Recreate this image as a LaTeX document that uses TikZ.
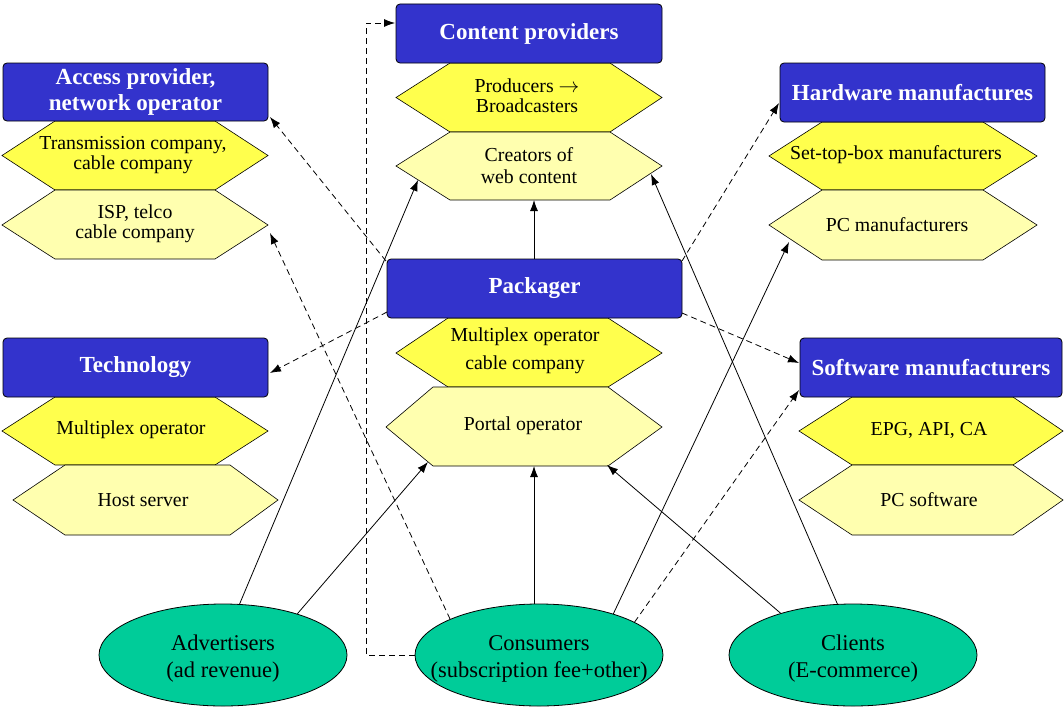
\documentclass[tikz,border=0pt]{standalone}
\usepackage{fontspec}
\setmainfont{Liberation Serif}
\usetikzlibrary{shapes.geometric,arrows.meta}
\definecolor{hdrblue}{RGB}{51,51,204}
\definecolor{hexyellow}{RGB}{255,255,77}
\definecolor{hexpale}{RGB}{255,255,175}
\definecolor{actorteal}{RGB}{0,204,153}
\tikzset{
  hdr/.style={draw=black, line width=0.8pt, fill=hdrblue, rounded corners=4pt,
    text=white, font=\bfseries\fontsize{23}{26}\selectfont, align=center, inner sep=0pt},
  hexA/.style={draw=black, line width=0.6pt, fill=hexyellow},
  hexB/.style={draw=black, line width=0.6pt, fill=hexpale},
  lbl/.style={font=\fontsize{19.8}{20}\selectfont, align=center, inner sep=0pt},
  actor/.style={ellipse, draw=black, line width=0.8pt, fill=actorteal,
    inner sep=0pt, minimum width=248pt, minimum height=102pt},
  actortext/.style={align=center, inner sep=0pt, font=\fontsize{22.5}{27}\selectfont},
  flow/.style={line width=0.8pt, -{Latex[length=11pt,width=8pt]}},
  dflow/.style={flow, dash pattern=on 6pt off 4pt},
}
\begin{document}
\begin{tikzpicture}[x=1pt,y=-1pt]
\useasboundingbox (0,0) rectangle (1064,709);

% ---------- Access provider column ----------
\draw[hexA] (2,155.5) -- (55,121) -- (215,121) -- (268,155.5) -- (215,190) -- (55,190) -- cycle;
\node[lbl] (trans) at (133,155.5) {Transmission company,\\cable company};
\draw[hexB] (2,225) -- (55,190) -- (215,190) -- (268,225) -- (215,259) -- (55,259) -- cycle;
\node[lbl] (isp) at (135,224) {ISP, telco\\cable company};
\node[hdr, minimum width=265pt, minimum height=58pt] (access) at (135.5,92) {Access provider,\\network operator};

% ---------- Content providers ----------
\draw[hexA] (396,97.5) -- (450,63) -- (610,63) -- (662,97.5) -- (610,132) -- (450,132) -- cycle;
\node[lbl] (prod) at (527,96) {Producers $\rightarrow$\\Broadcasters};
\draw[hexB] (396,166) -- (450,132) -- (610,132) -- (662,166) -- (610,200) -- (450,200) -- cycle;
\node[lbl, font=\fontsize{19.8}{22}\selectfont] (creat) at (529,166) {Creators of\\web content};
\node[hdr, minimum width=266pt, minimum height=59pt] (content) at (529,33.5) {Content providers};

% ---------- Hardware ----------
\draw[hexA] (769,156) -- (822,122) -- (983,122) -- (1037,156) -- (983,190) -- (822,190) -- cycle;
\node[lbl] (stb) at (896,155) {Set-top-box manufacturers};
\draw[hexB] (769,225) -- (822,190) -- (983,190) -- (1037,225) -- (983,260) -- (822,260) -- cycle;
\node[lbl] (pcm) at (897,225) {PC manufacturers};
\node[hdr, minimum width=265pt, minimum height=59pt] (hardware) at (912.5,92.5) {Hardware manufactures};

% ---------- Packager ----------
\draw[hexA] (396,353) -- (448,318) -- (608,318) -- (662,353) -- (608,387) -- (448,387) -- cycle;
\node[lbl, font=\fontsize{19.8}{28}\selectfont] (mux) at (525,351) {Multiplex operator\\cable company};
\draw[hexB] (386,427) -- (433,387) -- (608,387) -- (662,427) -- (608,466) -- (433,466) -- cycle;
\node[lbl] (portal) at (523,426) {Portal operator};
\node[hdr, minimum width=295pt, minimum height=59pt] (packager) at (534.5,288.5) {Packager};

% ---------- Technology ----------
\draw[hexA] (2,431) -- (55,397) -- (215,397) -- (268,431) -- (215,465) -- (55,465) -- cycle;
\node[lbl] (muxop) at (131,430) {Multiplex operator};
\draw[hexB] (13,500) -- (65,465) -- (230,465) -- (278,500) -- (230,535) -- (65,535) -- cycle;
\node[lbl] (host) at (143,500) {Host server};
\node[hdr, minimum width=265pt, minimum height=59pt] (tech) at (135.5,367.5) {Technology};

% ---------- Software ----------
\draw[hexA] (799,431) -- (852,397) -- (1013,397) -- (1063,431) -- (1013,465) -- (852,465) -- cycle;
\node[lbl] (epg) at (929,430) {EPG, API, CA};
\draw[hexB] (799,500) -- (852,465) -- (1013,465) -- (1063,500) -- (1013,535) -- (852,535) -- cycle;
\node[lbl] (pcs) at (929,500) {PC software};
\node[hdr, minimum width=262pt, minimum height=59pt] (software) at (931,367.5) {Software manufacturers};

% ---------- Actors ----------
\node[actor] (adv) at (223,655) {};
\node[actortext] (advT) at (223,659) {Advertisers\\(ad revenue)};
\node[actor] (cons) at (539,655) {};
\node[actortext] (consT) at (539,659) {Consumers\\(subscription fee+other)};
\node[actor] (cli) at (853,655) {};
\node[actortext] (cliT) at (853,659) {Clients\\(E-commerce)};

% ---------- connector end points ----------
\coordinate (tCrL) at (418,180);
\coordinate (tPoL) at (428,462);
\coordinate (tPoB) at (534,466);
\coordinate (tIsp) at (270,233);
\coordinate (tPcm) at (789,242);
\coordinate (tSwB) at (799,390);
\coordinate (tPoR) at (607,465);
\coordinate (tCrR) at (651,174);
\coordinate (tCrB) at (534,200);
\coordinate (tTech) at (270,373);
\coordinate (tSwL) at (799,363);
\coordinate (tAcc) at (270,117);
\coordinate (tHw) at (779,103);
\coordinate (tCP) at (395,23);
\coordinate (elbowX) at (366,0);
\coordinate (pkTL) at (386,261);
\coordinate (pkTR) at (682,261);
\coordinate (pkL) at (387,312);
\coordinate (pkR) at (682,313);

% ---------- connectors ----------
\draw[flow] (adv.72.6) -- (tCrL);
\draw[flow] (adv.29) -- (tPoL);
\draw[flow] (tPoB |- cons.north) -- (tPoB);
\draw[dflow] (cons.158) -- (tIsp);
\draw[flow] (cons.29.6) -- (tPcm);
\draw[dflow] (cons.19.3) -- (tSwB);
\draw[flow] (cli.150) -- (tPoR);
\draw[flow] (cli.107.4) -- (tCrR);
\draw[flow] (tCrB |- packager.north) -- (tCrB);
\draw[dflow] (pkL) -- (tTech);
\draw[dflow] (pkR) -- (tSwL);
\draw[dflow] (pkTL) -- (tAcc);
\draw[dflow] (pkTR) -- (tHw);
\draw[dflow] (cons.west) -- (cons.west -| elbowX) |- (tCP);
\end{tikzpicture}
\end{document}
